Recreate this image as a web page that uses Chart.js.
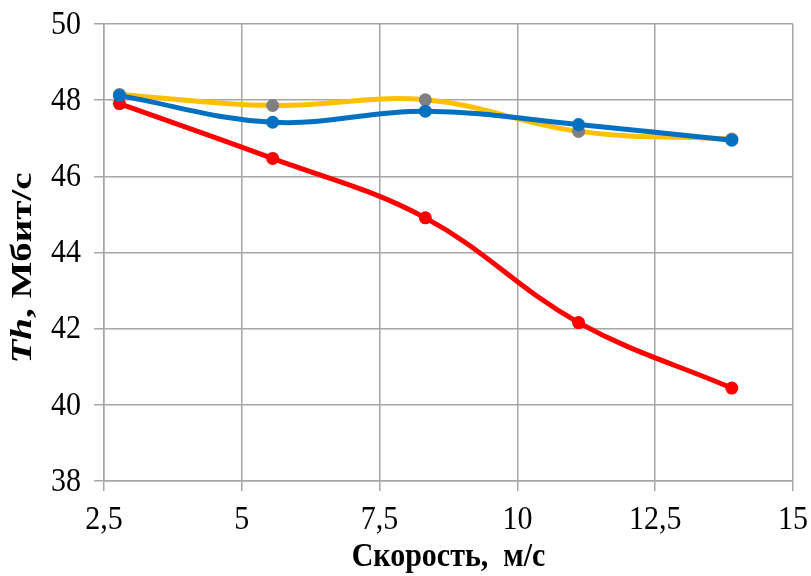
<!DOCTYPE html>
<html>
<head>
<meta charset="utf-8">
<script src="https://cdn.jsdelivr.net/npm/chart.js@4/dist/chart.umd.min.js"></script>
<style>
  html, body { margin: 0; padding: 0; background: #fff; }
  #wrap { width: 811px; height: 576px; position: relative; }
</style>
</head>
<body>
<div id="wrap"><canvas id="c" width="811" height="576"></canvas></div>
<script>
// Speed, m/s
const speeds = [2.78, 5.56, 8.33, 11.11, 13.89];
// Throughput, Mbit/s
const redSeries = [47.91, 46.47, 44.91, 42.16, 40.44];
const yellowSeries = [48.15, 47.86, 48.01, 47.18, 46.98];
const blueSeries = [48.12, 47.42, 47.71, 47.36, 46.95];

const xTicks = [2.5, 5, 7.5, 10, 12.5, 15];
const yTicks = [38, 40, 42, 44, 46, 48, 50];

const xTitle = 'Скорость,  м/с';
const yTitleItalic = 'Th';
const yTitleRest = ', Мбит/с';

const SERIF = "'Liberation Serif', 'Times New Roman', serif";
const GRID = '#a6a6a6';
const TEXT_STRETCH = 1.12;   // tall, narrow lettering

function pts(ys) { return speeds.map((x, i) => ({ x, y: ys[i] })); }
function fmt(v) { return String(v).replace('.', ','); }

// Draws a string with vertical stretching, centred on (x, y)
function stretchedText(ctx, text, x, y, font, align) {
  ctx.save();
  ctx.font = font;
  ctx.textAlign = align || 'center';
  ctx.textBaseline = 'middle';
  ctx.translate(x, y);
  ctx.scale(1, TEXT_STRETCH);
  ctx.fillText(text, 0, 0);
  ctx.restore();
}

// Axis labels and titles
const axisText = {
  id: 'axisText',
  afterDraw(chart) {
    const ctx = chart.ctx;
    const xs = chart.scales.x, ys = chart.scales.y;
    const a = chart.chartArea;
    ctx.save();
    ctx.fillStyle = '#000';
    const tickFont = '30px ' + SERIF;
    xs.ticks.forEach(t => {
      stretchedText(ctx, fmt(t.value), xs.getPixelForValue(t.value), 520, tickFont, 'center');
    });
    ys.ticks.forEach(t => {
      stretchedText(ctx, fmt(t.value), 81, ys.getPixelForValue(t.value) + 1, tickFont, 'right');
    });
    stretchedText(ctx, xTitle, (a.left + a.right) / 2, 557, 'bold 30px ' + SERIF, 'center');

    // rotated y title, stretched along its length
    const f1 = 'italic bold 30px ' + SERIF;
    const f2 = 'bold 30px ' + SERIF;
    ctx.font = f1; const w1 = ctx.measureText(yTitleItalic).width;
    ctx.font = f2; const w2 = ctx.measureText(yTitleRest).width;
    ctx.translate(23, 268);
    ctx.rotate(-Math.PI / 2);
    ctx.scale(1.3, 1);
    ctx.textBaseline = 'middle';
    ctx.textAlign = 'left';
    const start = -(w1 + w2) / 2;
    ctx.font = f1; ctx.fillText(yTitleItalic, start, 0);
    ctx.font = f2; ctx.fillText(yTitleRest, start + w1, 0);
    ctx.restore();
  }
};

const common = {
  showLine: true,
  borderWidth: 5,
  pointRadius: 6.5,
  pointHoverRadius: 6.5,
  pointBorderWidth: 0,
  tension: 0.38,
  fill: false
};

new Chart(document.getElementById('c'), {
  type: 'scatter',
  data: {
    datasets: [
      Object.assign({}, common, {
        label: 'red', data: pts(redSeries), order: 3,
        borderColor: '#ff0000', backgroundColor: '#ff0000'
      }),
      Object.assign({}, common, {
        label: 'yellow', data: pts(yellowSeries), order: 2,
        borderColor: '#ffc000', backgroundColor: '#808080'
      }),
      Object.assign({}, common, {
        label: 'blue', data: pts(blueSeries), order: 1,
        borderColor: '#0070c0', backgroundColor: '#0070c0'
      })
    ]
  },
  options: {
    responsive: false,
    animation: false,
    devicePixelRatio: 1,
    layout: { padding: { top: 24, right: 18, left: 0, bottom: 0 } },
    plugins: { legend: { display: false }, tooltip: { enabled: false } },
    scales: {
      x: {
        type: 'linear',
        min: 2.5, max: 15,
        afterBuildTicks(s) { s.ticks = xTicks.map(v => ({ value: v })); },
        afterFit(s) { s.height = 95; },
        grid: { color: GRID, lineWidth: 1.5, tickLength: 10, drawTicks: true, tickColor: GRID },
        border: { color: GRID, width: 1.5 },
        ticks: { display: false },
        title: { display: false }
      },
      y: {
        type: 'linear',
        min: 38, max: 50,
        afterBuildTicks(s) { s.ticks = yTicks.map(v => ({ value: v })); },
        afterFit(s) { s.width = 104; },
        grid: { color: GRID, lineWidth: 1.5, tickLength: 10, drawTicks: true, tickColor: GRID },
        border: { color: GRID, width: 1.5 },
        ticks: { display: false },
        title: { display: false }
      }
    }
  },
  plugins: [axisText]
});
</script>
</body>
</html>
